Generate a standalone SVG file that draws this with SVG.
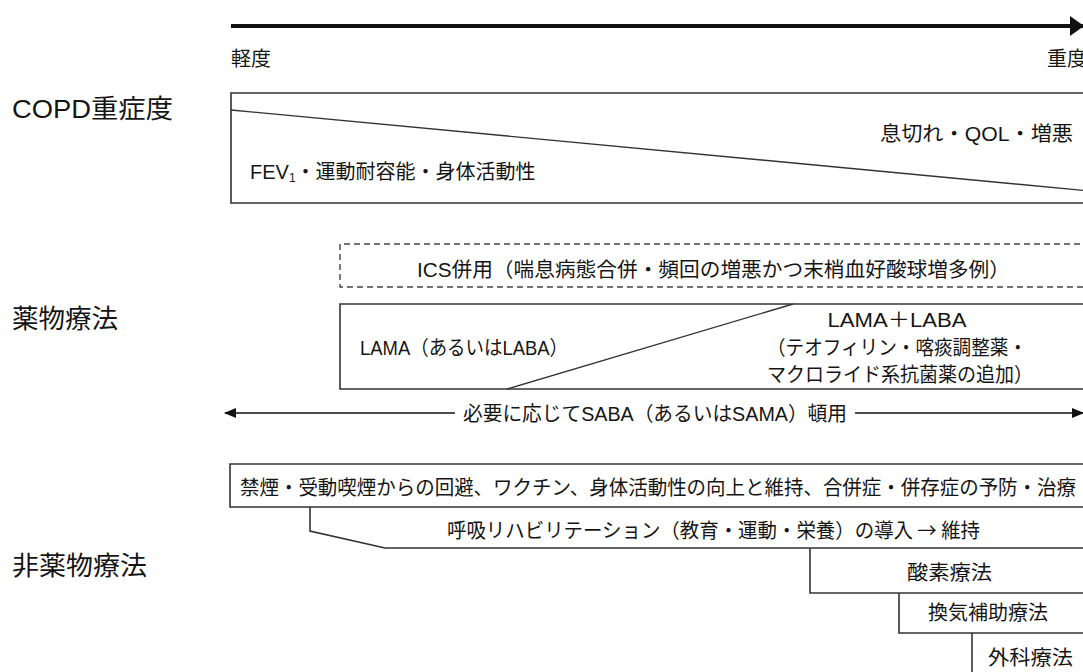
<svg xmlns="http://www.w3.org/2000/svg" width="1083" height="672" viewBox="0 0 1083 672">
<defs>
<style>
text{font-family:"Liberation Sans","Noto Sans CJK JP",sans-serif;fill:#151515;}
.t{font-size:20px;}
.h{font-size:26px;}
.cjk{font-family:"Noto Sans CJK JP",sans-serif;}
.box{fill:none;stroke:#333;stroke-width:1.6;}
.dash{fill:none;stroke:#444;stroke-width:1.4;stroke-dasharray:6 4;}
.ln{fill:none;stroke:#333;stroke-width:1.4;}
</style>
<marker id="ah" markerWidth="12" markerHeight="10" refX="11" refY="5" orient="auto-start-reverse" markerUnits="userSpaceOnUse">
<path d="M0,0 L12,5 L0,10 Z" fill="#111"/>
</marker>
<marker id="ahBig" markerWidth="14" markerHeight="20" refX="13" refY="10" orient="auto" markerUnits="userSpaceOnUse">
<path d="M0,0 L14,10 L0,20 Z" fill="#111"/>
</marker>
</defs>
<rect width="1083" height="672" fill="#fff"/>

<g id="connectors">
<line x1="231" y1="26" x2="1083" y2="26" stroke="#111" stroke-width="4" marker-end="url(#ahBig)"/>
<line x1="225" y1="413" x2="455" y2="413" stroke="#111" stroke-width="1.6" marker-start="url(#ah)"/>
<line x1="855" y1="413" x2="1083" y2="413" stroke="#111" stroke-width="1.6" marker-end="url(#ah)"/>
</g>

<g id="axis-labels">
<text class="t" x="231" y="66">軽度</text>
<text class="t" x="1047" y="66">重度</text>
</g>

<g id="row-labels">
<text class="h" x="12" y="118" textLength="161" lengthAdjust="spacingAndGlyphs">COPD重症度</text>
<text class="h" x="12" y="328" textLength="106" lengthAdjust="spacingAndGlyphs">薬物療法</text>
<text class="h" x="12" y="575" textLength="135" lengthAdjust="spacingAndGlyphs">非薬物療法</text>
</g>

<g id="copd-severity">
<path class="box" d="M1090,93 H231 V203 H1090"/>
<line class="ln" x1="231" y1="110" x2="1090" y2="191"/>
<text class="t" x="880" y="141" textLength="193" lengthAdjust="spacingAndGlyphs">息切れ・QOL・増悪</text>
<text class="t" x="250" y="179" font-size="21">FEV<tspan font-size="12" dy="3">1</tspan><tspan dy="-3">・運動耐容能・身体活動性</tspan></text>
</g>

<g id="ics">
<path class="dash" d="M1090,244 H340 V287 H1090"/>
<text class="t" x="417" y="277" textLength="593" lengthAdjust="spacingAndGlyphs">ICS併用（喘息病態合併・頻回の増悪かつ末梢血好酸球増多例）</text>
</g>

<g id="lama">
<path class="box" d="M1090,304 H340 V389 H1090"/>
<line class="ln" x1="507" y1="389" x2="793" y2="304"/>
<text class="t" x="360" y="355" textLength="208" lengthAdjust="spacingAndGlyphs">LAMA（あるいはLABA）</text>
<text class="t" x="897" y="327" text-anchor="middle" textLength="139" lengthAdjust="spacingAndGlyphs">LAMA＋LABA</text>
<text class="t" x="897" y="355" text-anchor="middle" textLength="260" lengthAdjust="spacingAndGlyphs">（テオフィリン・喀痰調整薬・</text>
<text class="t" x="900" y="382" text-anchor="middle" textLength="266" lengthAdjust="spacingAndGlyphs">マクロライド系抗菌薬の追加）</text>
</g>

<g id="saba">
<text class="t" x="463" y="421" textLength="384" lengthAdjust="spacingAndGlyphs">必要に応じてSABA（あるいはSAMA）頓用</text>
</g>

<g id="smoking">
<path class="box" d="M1090,464 H230 V507 H1090"/>
<text class="t" x="240" y="495" textLength="836" lengthAdjust="spacingAndGlyphs">禁煙・受動喫煙からの回避、ワクチン、身体活動性の向上と維持、合併症・併存症の予防・治療</text>
</g>

<g id="rehab">
<path class="box" d="M310,507 V531 L385,548 H1090"/>
<text class="t cjk" x="447" y="538" textLength="533" lengthAdjust="spacingAndGlyphs">呼吸リハビリテーション（教育・運動・栄養）の導入 → 維持</text>
</g>

<g id="oxygen">
<path class="box" d="M810,548 V593 H1090"/>
<text class="t" x="907" y="580" font-size="21" textLength="85" lengthAdjust="spacingAndGlyphs">酸素療法</text>
</g>

<g id="ventilation">
<path class="box" d="M899,593 V633 H1090"/>
<text class="t" x="928" y="620" font-size="21" textLength="120" lengthAdjust="spacingAndGlyphs">換気補助療法</text>
</g>

<g id="surgery">
<path class="box" d="M972,633 V680"/>
<text class="t" x="988" y="665" font-size="21" textLength="85" lengthAdjust="spacingAndGlyphs">外科療法</text>
</g>
</svg>
